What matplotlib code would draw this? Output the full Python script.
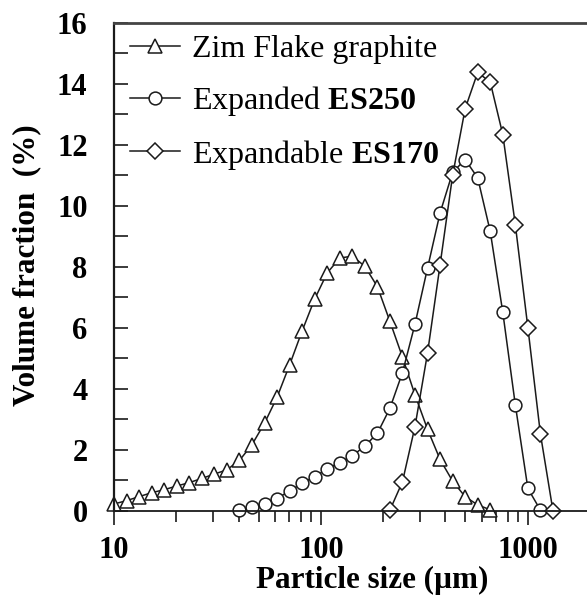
import matplotlib
matplotlib.use('Agg')
import matplotlib.pyplot as plt
from matplotlib.ticker import LogLocator, NullFormatter, FixedLocator, FixedFormatter

plt.rcParams['font.family'] = ['Liberation Serif', 'DejaVu Serif']
plt.rcParams['mathtext.fontset'] = 'custom'
plt.rcParams['mathtext.rm'] = 'Liberation Serif'
plt.rcParams['mathtext.bf'] = 'Liberation Serif:bold'

# Particle size bins (µm)
size_bins = [10.0, 11.5, 13.2, 15.2, 17.5, 20.1, 23.1, 26.6, 30.5, 35.1,
             40.4, 46.4, 53.4, 61.4, 70.6, 81.2, 93.3, 107.3, 123.4, 141.9,
             163.1, 187.6, 215.7, 248.0, 285.1, 327.8, 377.0, 433.4, 498.4, 573.0,
             658.9, 757.6, 871.1, 1001.6, 1151.6, 1324.2]

zim_x = size_bins[0:31]
zim_y = [0.22, 0.33, 0.46, 0.59, 0.69, 0.81, 0.92, 1.06, 1.20, 1.34,
         1.65, 2.16, 2.87, 3.72, 4.78, 5.90, 6.94, 7.80, 8.29, 8.35,
         8.02, 7.35, 6.21, 5.04, 3.80, 2.67, 1.68, 0.97, 0.46, 0.19, 0.03]

es250_x = size_bins[10:35]
es250_y = [0.03, 0.11, 0.23, 0.40, 0.65, 0.90, 1.12, 1.37, 1.58, 1.80,
           2.12, 2.54, 3.36, 4.53, 6.12, 7.96, 9.77, 11.10, 11.52, 10.92,
           9.16, 6.51, 3.47, 0.73, 0.02]

es170_x = size_bins[22:36]
es170_y = [0.02, 0.95, 2.76, 5.17, 8.07, 11.00, 13.19, 14.38, 14.06, 12.34,
           9.38, 6.01, 2.52, 0.0]

labels = ['Zim Flake graphite', r'Expanded $\mathbf{ES250}$', r'Expandable $\mathbf{ES170}$']
yticks = [0, 2, 4, 6, 8, 10, 12, 14, 16]
xticks = [10, 100, 1000]
xticklabels = ['10', '100', '1000']

W, H = 587, 598
fig = plt.figure(figsize=(W / 100, H / 100), dpi=100)
left, right_px, top, bottom = 114, 590, 23, 510.7
ax = fig.add_axes([left / W, 1 - bottom / H, (right_px - left) / W, (bottom - top) / H])
ax.set_xscale('log')
ax.set_xlim(10, 2000)
ax.set_ylim(0, 16)

col = '#1a1a1a'
kw = dict(color=col, lw=1.1, mfc='white', mec=col, mew=1.1, clip_on=False)
ax.plot(zim_x, zim_y, marker='^', ms=9.5, label=labels[0], **kw)
ax.plot(es250_x, es250_y, marker='o', ms=9.2, label=labels[1], **kw)
ax.plot(es170_x, es170_y, marker='D', ms=7.8, label=labels[2], **kw)

ax.yaxis.set_major_locator(FixedLocator(yticks))
ax.yaxis.set_minor_locator(FixedLocator([1, 3, 5, 7, 9, 11, 13, 15]))
ax.xaxis.set_major_locator(FixedLocator(xticks))
ax.xaxis.set_major_formatter(FixedFormatter(xticklabels))
ax.xaxis.set_minor_locator(LogLocator(base=10, subs=[2, 3, 4, 5, 6, 7, 8, 9]))
ax.xaxis.set_minor_formatter(NullFormatter())

ax.tick_params(axis='y', which='both', direction='in', length=10, width=1.2,
               pad=19, labelsize=22, color=col)
ax.tick_params(axis='x', which='major', direction='out', length=10, width=1.2,
               pad=8, labelsize=22, color=col)
ax.tick_params(axis='x', which='minor', direction='out', length=8, width=1.2, color=col)
for lab in ax.get_xticklabels() + ax.get_yticklabels():
    lab.set_fontweight('bold')

ax.spines['right'].set_visible(False)
ax.spines['top'].set_linewidth(2.0)
ax.spines['top'].set_color('#444444')
ax.spines['left'].set_linewidth(1.6)
ax.spines['left'].set_color(col)
ax.spines['bottom'].set_linewidth(1.3)
ax.spines['bottom'].set_color(col)

fig.text(27 / W, 1 - 265 / H, 'Volume fraction  (%)', rotation=90, ha='center', va='center',
         fontsize=22.4, fontweight='bold')
fig.text(372 / W, 1 - 580 / H, 'Particle size (µm)', ha='center', va='center',
         fontsize=22.4, fontweight='bold')

leg = ax.legend(loc='upper left', bbox_to_anchor=(0.034, 0.976), frameon=False, fontsize=23,
                handlelength=1.55, handletextpad=0.38, labelspacing=0.62,
                borderaxespad=0, borderpad=0)

fig.savefig('out.png', dpi=100)
